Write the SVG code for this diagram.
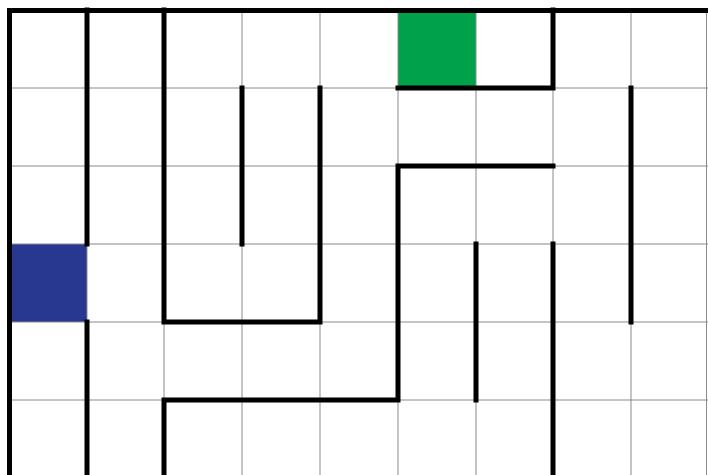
<svg xmlns="http://www.w3.org/2000/svg" width="708" height="475" viewBox="0 0 708 475">
<style>
.grid{stroke:#8a8a8a;stroke-width:1;fill:none}
.wall{stroke:#000;stroke-width:5;stroke-linecap:square;fill:none}
</style>
<rect width="708" height="475" fill="#fff"/>
<g id="start"><rect x="9" y="244" width="78" height="78" fill="#283891"/></g>
<g id="goal"><rect x="398" y="10" width="78" height="78" fill="#00a14b"/></g>
<g id="grid" class="grid">
<path d="M87 10V475M164 10V475M242 10V475M320 10V475M398 10V475M476 10V475M553 10V475M631 10V475M706.5 10V475"/>
<path d="M9 88H708M9 166H708M9 244H708M9 322H708M9 400H708"/>
</g>
<g id="walls" class="wall">
<path d="M9.5 10.5H706"/>
<path d="M9.5 10.5V475"/>
<path d="M87 10V244M87 322V475"/>
<path d="M164 10V322H320V88"/>
<path d="M242 88V244"/>
<path d="M164 475V400H398V166H553"/>
<path d="M398 88H553V10"/>
<path d="M631 88V322"/>
<path d="M476 244V400"/>
<path d="M553 244V475"/>
</g>
</svg>
